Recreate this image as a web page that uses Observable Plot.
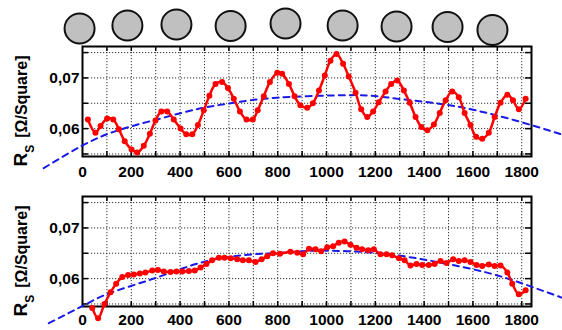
<!DOCTYPE html>
<html><head><meta charset="utf-8">
<script src="https://cdn.jsdelivr.net/npm/d3@7"></script>
<script src="https://cdn.jsdelivr.net/npm/@observablehq/plot@0.6"></script>
<style>
body{margin:0;background:#fff;}
#chart{width:562px;height:330px;overflow:hidden;position:relative;}
#chart svg{display:block;overflow:visible;}
</style></head><body><div id="chart"></div>
<script>
// wafer positions (x units) and small vertical offsets (row units)
const waferX = [-12, 184, 385, 607, 832, 1066, 1287, 1496, 1680];
const waferRow = [28, 25, 24, 25.5, 23, 25, 26, 26.5, 29.5];

// top panel measured values
const topX = [22,53,74,101,126,149,173,201,224,251,276,299,323,347,374,402,425,450,473,497,520,545,572,596,620,645,672,698,718,743,768,798,818,846,869,893,921,944,969,993,1016,1041,1068,1091,1119,1142,1167,1191,1214,1242,1265,1290,1317,1341,1365,1389,1413,1440,1464,1488,1515,1542,1566,1590,1613,1638,1665,1689,1713,1741,1764,1788,1816];
const topRs = [0.0618,0.0592,0.0605,0.0620,0.0618,0.0599,0.0575,0.0559,0.0553,0.0566,0.0590,0.0616,0.0634,0.0634,0.0618,0.0600,0.0589,0.0589,0.0607,0.0636,0.0665,0.0688,0.0692,0.0680,0.0659,0.0634,0.0618,0.0618,0.0636,0.0664,0.0692,0.0710,0.0708,0.0688,0.0664,0.0646,0.0641,0.0650,0.0675,0.0705,0.0734,0.0747,0.0728,0.0703,0.0671,0.0638,0.0623,0.0634,0.0652,0.0673,0.0688,0.0695,0.0675,0.0651,0.0623,0.0603,0.0597,0.0608,0.0631,0.0656,0.0673,0.0662,0.0631,0.0607,0.0584,0.0580,0.0592,0.0623,0.0651,0.0667,0.0656,0.0638,0.0659];
// top panel fit (blue dashed)
const topFitX = [-159,-3,142,320,484,620,798,1085,1221,1398,1563,1767,1967];
const topFitRs = [0.0522,0.0566,0.0596,0.0620,0.0640,0.0651,0.0661,0.0666,0.0663,0.0653,0.0641,0.0617,0.0588];

// bottom panel measured values
const botX = [40,64,90,115,138,163,187,210,235,258,286,309,333,361,385,409,436,460,484,508,531,559,582,607,634,657,682,709,734,757,781,809,852,880,904,928,955,978,1003,1027,1050,1074,1098,1123,1146,1171,1194,1221,1246,1269,1297,1320,1344,1369,1392,1419,1443,1467,1492,1519,1542,1566,1590,1615,1638,1665,1689,1713,1741,1761,1788,1816];
const botRs = [0.0542,0.0522,0.0550,0.0573,0.0590,0.0603,0.0607,0.0608,0.0610,0.0612,0.0616,0.0617,0.0614,0.0613,0.0614,0.0614,0.0615,0.0616,0.0622,0.0629,0.0636,0.0641,0.0641,0.0640,0.0638,0.0636,0.0636,0.0633,0.0638,0.0644,0.0650,0.0649,0.0653,0.0651,0.0648,0.0659,0.0658,0.0654,0.0662,0.0664,0.0671,0.0673,0.0667,0.0661,0.0658,0.0656,0.0658,0.0648,0.0648,0.0646,0.0640,0.0636,0.0626,0.0629,0.0627,0.0627,0.0629,0.0635,0.0631,0.0638,0.0635,0.0636,0.0633,0.0627,0.0625,0.0628,0.0625,0.0626,0.0612,0.0590,0.0569,0.0577];
const botFitX = [-138,12,115,279,415,552,702,811,948,1085,1221,1358,1495,1631,1768,1967];
const botFitRs = [0.0512,0.0549,0.0572,0.0598,0.0621,0.0639,0.0648,0.0651,0.0655,0.0654,0.0650,0.0641,0.0629,0.0615,0.0596,0.0562];

const xTickLabels = [0,200,400,600,800,1000,1200,1400,1600,1800];
const xGrid = [100,200,300,400,500,600,700,800,900,1000,1100,1200,1300,1400,1500,1600,1700,1800];
const yTickLabels = [0.06, 0.07];
const yGrid = [0.055, 0.06, 0.065, 0.07, 0.075];

const FONT = "'Liberation Sans', Arial, Helvetica, sans-serif";
const W = 562, ML = 82, MR = 31, FH = 110;
const xDomain = [0, 1840];
const yDomain = [0.0545, 0.0762];
const chart = document.getElementById("chart");

// wafers row
const wafers = Plot.plot({
  width: W, height: 43, marginLeft: ML, marginRight: MR, marginTop: 0, marginBottom: 0,
  x: {domain: xDomain, axis: null},
  y: {domain: [0, 43], range: [0, 43], axis: null},
  style: {background: "white", overflow: "visible"},
  marks: [
    Plot.dot(waferX, {x: d => d, y: (d, i) => waferRow[i], r: 15, fill: "#c0c0c0", stroke: "#111", strokeWidth: 2})
  ]
});
chart.appendChild(wafers);

function panel(xs, ys, fxs, fys, mt, mb, pad) {
  const data = xs.map((x, i) => ({x, y: ys[i]}));
  const fit = fxs.map((x, i) => ({x, y: fys[i]}));
  const fw = W - ML - MR;
  const grid = {stroke: "#333", strokeDasharray: "1.2,1.8", strokeWidth: 1};
  const svg = Plot.plot({
    width: W, height: mt + FH + mb, marginLeft: ML, marginRight: MR, marginTop: mt, marginBottom: mb,
    x: {domain: xDomain, label: null},
    y: {domain: yDomain, label: null},
    style: {fontFamily: FONT, fontSize: "15px", fontWeight: "bold", background: "white", overflow: "visible", color: "black"},
    marks: [
      Plot.ruleX(xGrid, {x: d => d, ...grid}),
      Plot.ruleY(yGrid, {y: d => d, ...grid}),
      Plot.tickX(xGrid, {x: d => d, insetTop: FH - 5, stroke: "black", strokeWidth: 1.5}),
      Plot.tickX(xGrid, {x: d => d, insetBottom: FH - 5, stroke: "black", strokeWidth: 1.5}),
      Plot.tickY(yGrid, {y: d => d, insetRight: fw - 6, stroke: "black", strokeWidth: 1.5}),
      Plot.tickY(yGrid, {y: d => d, insetLeft: fw - 6, stroke: "black", strokeWidth: 1.5}),
      Plot.frame({stroke: "black", strokeWidth: 2}),
      Plot.line(fit, {x: "x", y: "y", stroke: "#1a1ae6", strokeWidth: 2, strokeDasharray: "6,5", curve: "natural"}),
      Plot.line(data, {x: "x", y: "y", stroke: "#ff0000", strokeWidth: 2.5, curve: "catmull-rom"}),
      Plot.dot(data, {x: "x", y: "y", r: 3, fill: "#ff0000"}),
      Plot.axisX(xTickLabels, {tickSize: 0, tickPadding: pad, fontSize: 15.5, fontWeight: "bold", label: null,
        tickFormat: d => String(d)}),
      Plot.axisY(yTickLabels, {tickSize: 0, tickPadding: 3, fontSize: 15.5, fontWeight: "bold", label: null,
        tickFormat: d => d.toFixed(2).replace(".", ",")})
    ]
  });
  const s = d3.select(svg);
  const t = s.append("text")
    .attr("transform", `translate(27, ${mt + 65}) rotate(-90)`)
    .attr("text-anchor", "middle")
    .attr("font-family", FONT).attr("font-weight", "bold").attr("font-size", 16).attr("fill", "black");
  t.append("tspan").attr("font-size", 19).text("R");
  t.append("tspan").attr("font-size", 12).attr("baseline-shift", "sub").text("S");
  t.append("tspan").attr("dx", 7).text("[Ω/Square]");
  return svg;
}

chart.appendChild(panel(topX, topRs, topFitX, topFitRs, 3, 37, 9));
chart.appendChild(panel(botX, botRs, botFitX, botFitRs, 3, 24, 7));
</script></body></html>
